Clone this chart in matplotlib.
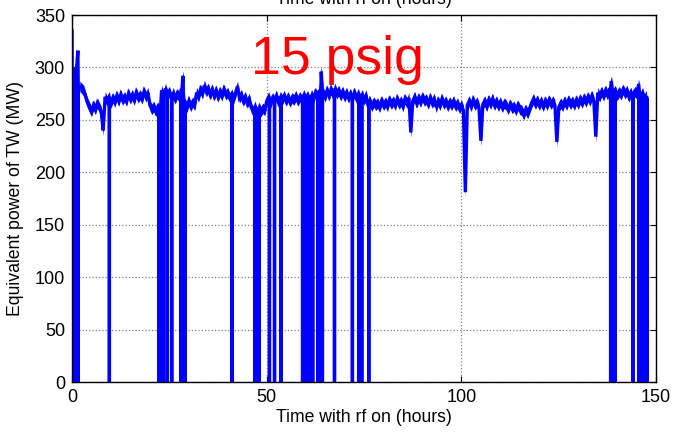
import numpy as np
import matplotlib
matplotlib.use("Agg")
import matplotlib.pyplot as plt

plt.rcParams['font.family'] = ['Liberation Sans', 'DejaVu Sans']

# Equivalent power (MW) sampled every 0.5 h, starting at 0 h
power_mw = [
    # 0 - 8.5
    335, 290, 300, 316, 282, 280, 278, 272, 266, 262, 258, 264, 260, 266, 262, 258, 240, 272,
    # 9 - 19.5
    268, 272, 266, 271, 267, 273, 268, 274, 269, 272, 268, 275, 270, 274, 269, 276, 271, 274,
    270, 277, 272, 276,
    # 20 - 22.5
    264, 260, 263, 258, 262, 259,
    # 23 - 28.5
    278, 272, 280, 274, 277, 271, 276, 270, 275, 272, 278, 292,
    # 29 - 31.5
    266, 262, 268, 263, 267, 264,
    # 32 - 36
    276, 272, 279, 275, 283, 277, 280, 274, 279,
    # 36.5 - 41
    273, 278, 272, 277, 273, 279, 274, 276, 271, 274,
    # 41.5 - 43.5
    270, 276, 282, 271, 274,
    # 44 - 45.5
    268, 272, 266, 270,
    # 46 - 49.5
    262, 258, 263, 257, 262, 258, 261, 259,
    # 50 - 57
    268, 272, 266, 271, 268, 273, 267, 272, 269, 273, 268, 272, 267, 271, 269,
    # 57.5 - 64.5
    273, 268, 272, 269, 274, 270, 273, 268, 274, 270, 276, 272, 278, 296, 276,
    # 65 - 75.5
    272, 278, 273, 279, 274, 280, 275, 278, 273, 277, 272, 276, 271, 275, 270, 276, 271, 275,
    270, 274, 269, 273,
    # 76 - 86
    264, 268, 263, 267, 264, 266, 262, 268, 264, 267, 263, 269, 265, 268, 264, 270, 265, 268,
    263, 270, 266,
    # 86.5 - 87.5
    271, 238, 268,
    # 88 - 99
    272, 266, 271, 267, 272, 268, 270, 265, 271, 266, 270, 262, 268, 264, 270, 265, 268, 263,
    267, 264, 268, 263, 266,
    # 99.5 - 101
    261, 264, 259, 181,
    # 101.5 - 111
    264, 268, 263, 269, 264, 267, 262, 230, 265, 268, 263, 269, 265, 270, 264, 268, 263, 267,
    262, 266,
    # 111.5 - 115
    264, 260, 265, 261, 263, 259, 264, 260,
    # 115.5 - 117.5
    259, 255, 260, 256, 261,
    # 118 - 125
    266, 270, 265, 269, 264, 268, 263, 268, 264, 269, 265, 268, 264, 229, 262,
    # 125.5 - 134.5
    266, 263, 268, 264, 269, 265, 268, 264, 269, 265, 270, 266, 271, 267, 272, 268, 273, 268,
    234,
    # 135 - 147.5
    276, 272, 277, 273, 278, 274, 279, 287, 275, 278, 273, 277, 274, 279, 275, 278, 272, 276,
    271, 277, 275, 284, 272, 276, 270, 273,
]

# Hours at which the rf tripped (power dropped to zero)
dropout_hours = [
    0.05, 1.0, 1.6, 9.6, 22.3, 22.7, 23.1, 23.5, 24.5, 25.6, 27.9, 28.2, 28.6, 29.0,
    41.1, 46.9, 47.3, 47.7, 48.1, 50.7, 52.0, 53.7, 59.2, 59.6, 60.2, 60.6, 61.0, 61.4,
    61.8, 63.1, 63.5, 63.9, 64.3, 67.4, 72.0, 73.6, 74.0, 74.4, 76.2,
    138.3, 138.7, 139.1, 139.5, 144.0, 145.6, 146.0, 146.4, 146.8, 147.2, 147.6,
]

# Estimated short-term jitter of the measurement (MW, half-width of the noisy band)
jitter_mw = 5

# x / y tick values
x_ticks = [0, 50, 100, 150]
y_ticks = [0, 50, 100, 150, 200, 250, 300, 350]

sample_step = 0.5
sample_hours = sample_step * np.arange(len(power_mw))
power_arr = np.array(power_mw, dtype=float)

# Merge samples and drop-outs into one trace
t_all = list(sample_hours)
v_all = list(power_mw)
for d in dropout_hours:
    idx = int(np.searchsorted(sample_hours, d)) - 1
    idx = min(max(idx, 0), len(power_mw) - 2)
    lvl = min(power_mw[idx], power_mw[idx + 1])
    t_all += [d, d, d]
    v_all += [lvl, 0, lvl]
order = np.argsort(np.array(t_all), kind='stable')
t_arr = np.array(t_all)[order]
v_arr = np.array(v_all)[order]

fig = plt.figure(figsize=(6.73, 4.32), dpi=100)
ax = fig.add_axes([0.107, 0.1157, 0.868, 0.8495])

ax.fill_between(sample_hours[4:], power_arr[4:] - jitter_mw, power_arr[4:] + jitter_mw,
                color='#0000ff', linewidth=0)
ax.plot(t_arr, v_arr, color='#0000ff', linewidth=2.4, solid_joinstyle='miter')

ax.set_xlim(0, 150)
ax.set_ylim(0, 350)
ax.set_xticks(x_ticks)
ax.set_yticks(y_ticks)
ax.tick_params(direction='in', top=True, right=True, length=4, width=0.8,
               labelsize=13, pad=5)
ax.grid(True, linestyle=':', color='#808080', linewidth=0.9)
for s in ax.spines.values():
    s.set_linewidth(1.0)

ax.set_xlabel('Time with rf on (hours)', fontsize=12.7, labelpad=2)
ax.set_ylabel('Equivalent power of TW (MW)', fontsize=12.7, labelpad=8)

ax.text(46, 294, '15 psig', color='#ff0000', fontsize=38.5, va='baseline', ha='left')

fig.text(0.541, 0.99, 'Time with rf on (hours)', fontsize=12.7, ha='center', va='baseline')

fig.savefig('out.png', dpi=100)
